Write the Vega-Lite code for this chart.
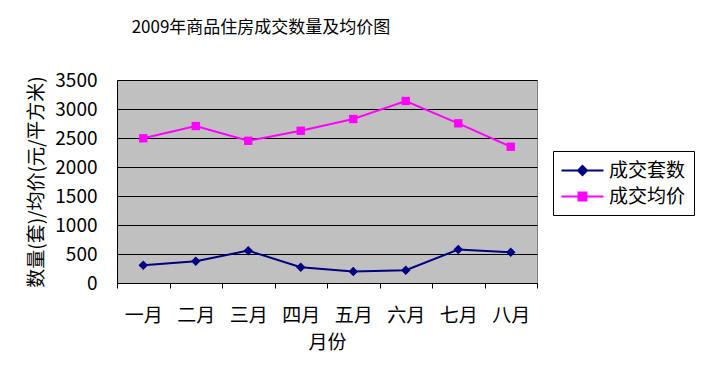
{
  "$schema": "https://vega.github.io/schema/vega-lite/v6.json",
  "width": 420,
  "height": 203,
  "autosize": {"type": "none"},
  "padding": {"left": 117, "top": 80, "right": 172, "bottom": 100},
  "background": "white",
  "title": {
    "text": "2009年商品住房成交数量及均价图",
    "fontSize": 17,
    "fontWeight": "normal",
    "font": "Noto Sans CJK SC",
    "color": "black",
    "anchor": "middle",
    "dx": -66,
    "offset": 34
  },
  "data": {
    "values": [
      {"month": "一月", "series": "成交套数", "value": 305},
      {"month": "二月", "series": "成交套数", "value": 375},
      {"month": "三月", "series": "成交套数", "value": 558},
      {"month": "四月", "series": "成交套数", "value": 272},
      {"month": "五月", "series": "成交套数", "value": 198},
      {"month": "六月", "series": "成交套数", "value": 220},
      {"month": "七月", "series": "成交套数", "value": 576},
      {"month": "八月", "series": "成交套数", "value": 530},
      {"month": "一月", "series": "成交均价", "value": 2495},
      {"month": "二月", "series": "成交均价", "value": 2706},
      {"month": "三月", "series": "成交均价", "value": 2452},
      {"month": "四月", "series": "成交均价", "value": 2625},
      {"month": "五月", "series": "成交均价", "value": 2827},
      {"month": "六月", "series": "成交均价", "value": 3138},
      {"month": "七月", "series": "成交均价", "value": 2753},
      {"month": "八月", "series": "成交均价", "value": 2349}
    ]
  },
  "encoding": {
    "x": {
      "field": "month",
      "type": "ordinal",
      "sort": ["一月", "二月", "三月", "四月", "五月", "六月", "七月", "八月"],
      "bandPosition": 0.5,
      "scale": {"type": "band", "paddingInner": 0, "paddingOuter": 0},
      "title": "月份",
      "axis": {
        "labelAngle": 0,
        "labelFontSize": 19,
        "labelColor": "black",
        "labelPadding": 18,
        "titleFontSize": 19,
        "titleFontWeight": "normal",
        "titleColor": "black",
        "titlePadding": 8,
        "domainColor": "black",
        "tickColor": "black",
        "tickSize": 5,
        "tickBand": "extent",
        "grid": false
      }
    },
    "y": {
      "field": "value",
      "type": "quantitative",
      "scale": {"domain": [0, 3500], "nice": false, "zero": true},
      "title": "数量(套)/均价(元/平方米)",
      "axis": {
        "values": [0, 500, 1000, 1500, 2000, 2500, 3000, 3500],
        "format": "d",
        "labelFontSize": 19,
        "labelColor": "black",
        "labelPadding": 20,
        "ticks": false,
        "titleFontSize": 19,
        "titleFontWeight": "normal",
        "titleColor": "black",
        "titlePadding": 8,
        "domainColor": "black",
        "grid": true,
        "gridColor": "black",
        "gridOpacity": 1,
        "gridWidth": 1
      }
    },
    "color": {
      "field": "series",
      "type": "nominal",
      "scale": {"domain": ["成交套数", "成交均价"], "range": ["#000080", "#FF00FF"]}
    }
  },
  "layer": [
    {
      "mark": {"type": "line", "strokeWidth": 2},
      "encoding": {
        "color": {
          "field": "series",
          "type": "nominal",
          "scale": {"domain": ["成交套数", "成交均价"], "range": ["#000080", "#FF00FF"]},
          "legend": {
            "title": null,
            "orient": "none",
            "legendX": 436,
            "legendY": 71,
            "strokeColor": "black",
            "fillColor": "white",
            "padding": 8,
            "labelFontSize": 19,
            "labelColor": "black",
            "labelOffset": 15,
            "symbolOffset": 10,
            "symbolSize": 441,
            "symbolStrokeWidth": 2,
            "rowPadding": 4,
            "encode": {
              "symbols": {
                "update": {
                  "shape": {"signal": "datum.value === '成交套数' ? 'M-2,0L2,0M0,-0.43L0.43,0L0,0.43L-0.43,0Z' : 'M-2,0L2,0M-0.38,-0.38L0.38,-0.38L0.38,0.38L-0.38,0.38Z'"},
                  "fill": {"signal": "datum.value === '成交套数' ? '#000080' : '#FF00FF'"},
                  "stroke": {"signal": "datum.value === '成交套数' ? '#000080' : '#FF00FF'"},
                  "fillOpacity": {"value": 1},
                  "strokeWidth": {"value": 2}
                }
              }
            }
          }
        }
      }
    },
    {
      "transform": [{"filter": "datum.series === '成交套数'"}],
      "mark": {"type": "point", "filled": true, "opacity": 1, "shape": "diamond", "size": 90}
    },
    {
      "transform": [{"filter": "datum.series === '成交均价'"}],
      "mark": {"type": "point", "filled": true, "opacity": 1, "shape": "square", "size": 70}
    }
  ],
  "config": {
    "font": "Noto Sans CJK SC",
    "view": {"fill": "#C0C0C0", "stroke": "#808080", "strokeWidth": 1}
  }
}
